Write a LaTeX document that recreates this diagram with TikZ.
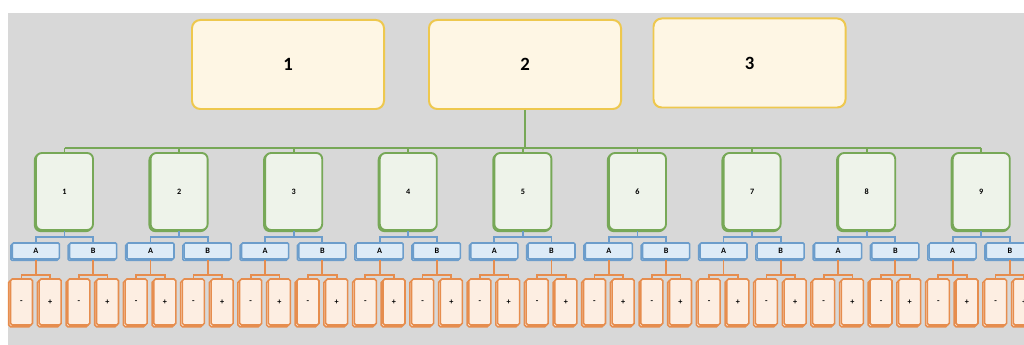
\documentclass[tikz,border=0pt]{standalone}
\usepackage{fontspec}
\setmainfont{Carlito}
\usetikzlibrary{shadows}

\definecolor{bggray}{HTML}{D8D8D8}
\definecolor{topfill}{HTML}{FEF6E4}
\definecolor{topdraw}{HTML}{EEC84E}
\definecolor{greenfill}{HTML}{EEF3EA}
\definecolor{greendraw}{HTML}{77A857}
\definecolor{bluefill}{HTML}{DDEBF7}
\definecolor{bluedraw}{HTML}{6C9DCB}
\definecolor{orangefill}{HTML}{FDEEE2}
\definecolor{orangedraw}{HTML}{E68D4E}

\begin{document}
\begin{tikzpicture}[x=0.03cm,y=-0.03cm]
	\tikzstyle{topbox} = [draw=topdraw, fill=topfill, line width=1.7pt, rounded corners=7pt, minimum width=5.76cm, minimum height=2.67cm, inner sep=0pt, font=\fontsize{16}{18}\selectfont\bfseries]
	\tikzstyle{unit} = [draw=greendraw, fill=greenfill, line width=1.6pt, rounded corners=5pt, minimum width=1.71cm, minimum height=2.31cm, inner sep=0pt, font=\fontsize{7}{8}\selectfont\bfseries, copy shadow={shadow xshift=-1pt, shadow yshift=-1pt, fill=greenfill, draw=greendraw, line width=1.6pt}]
	\tikzstyle{sidebox} = [draw=bluedraw, fill=bluefill, line width=1.3pt, rounded corners=1pt, minimum width=1.41cm, minimum height=0.48cm, inner sep=0pt, font=\fontsize{7}{8}\selectfont\bfseries, copy shadow={shadow xshift=-1.2pt, shadow yshift=-1.2pt, fill=bluefill, draw=bluedraw, line width=1.3pt}]
	\tikzstyle{signbox} = [draw=orangedraw, fill=orangefill, line width=1.3pt, rounded corners=1.5pt, minimum width=0.66cm, minimum height=1.38cm, inner sep=0pt, font=\fontsize{7}{8}\selectfont\bfseries, copy shadow={shadow xshift=-1.5pt, shadow yshift=-1.5pt, fill=orangefill, draw=orangedraw, line width=1.3pt}]
	\tikzstyle{greenline} = [draw=greendraw, line width=1.5pt]
	\tikzstyle{blueline} = [draw=bluedraw, line width=1.5pt]
	\tikzstyle{orangeline} = [draw=orangedraw, line width=1.5pt]

	% Background
	\useasboundingbox (0,0) rectangle (1024,345);
	\clip (0,0) rectangle (1024,345);
	\fill[bggray] (8,13) rectangle (1024,345);

	% Top nodes
	\node[topbox] (t1) at (288,64.5) {1};
	\node[topbox] (t2) at (525,64.5) {2};
	\node[topbox] (t3) at (749.5,63) {3};

	% Unit nodes with A/B and -/+ children
	\foreach \i in {1,...,9} {
		\pgfmathsetmacro{\cx}{64.5+114.6*(\i-1)}
		\node[unit] (g\i) at (\cx,191.5) {\i};
		\node[sidebox] (a\i) at (\cx-28.6,251) {A};
		\node[sidebox] (b\i) at (\cx+28.6,251) {B};
		\node[signbox] (am\i) at (\cx-43,302) {-};
		\node[signbox] (ap\i) at (\cx-14.3,302) {+};
		\node[signbox] (bm\i) at (\cx+14.3,302) {-};
		\node[signbox] (bp\i) at (\cx+43,302) {+};
	}

	% Draw
	% Green bus
	\coordinate (bus) at (0,148);
	\draw[greenline] (t2.south) -- (t2.south |- bus);
	\draw[greenline] (g1.north |- bus) -- (g9.north |- bus);
	\foreach \i in {1,...,9} \draw[greenline] (g\i.north |- bus) -- (g\i.north);

	% Blue and orange branches
	\foreach \i in {1,...,9} {
		\draw[blueline] (g\i.south) -- ++(0,6) coordinate (j\i);
		\draw[blueline] (a\i.north) |- (j\i) -| (b\i.north);
		\draw[orangeline] (a\i.south) -- ++(0,15) coordinate (ja\i);
		\draw[orangeline] (am\i.north) |- (ja\i) -| (ap\i.north);
		\draw[orangeline] (b\i.south) -- ++(0,15) coordinate (jb\i);
		\draw[orangeline] (bm\i.north) |- (jb\i) -| (bp\i.north);
	}
\end{tikzpicture}
\end{document}
